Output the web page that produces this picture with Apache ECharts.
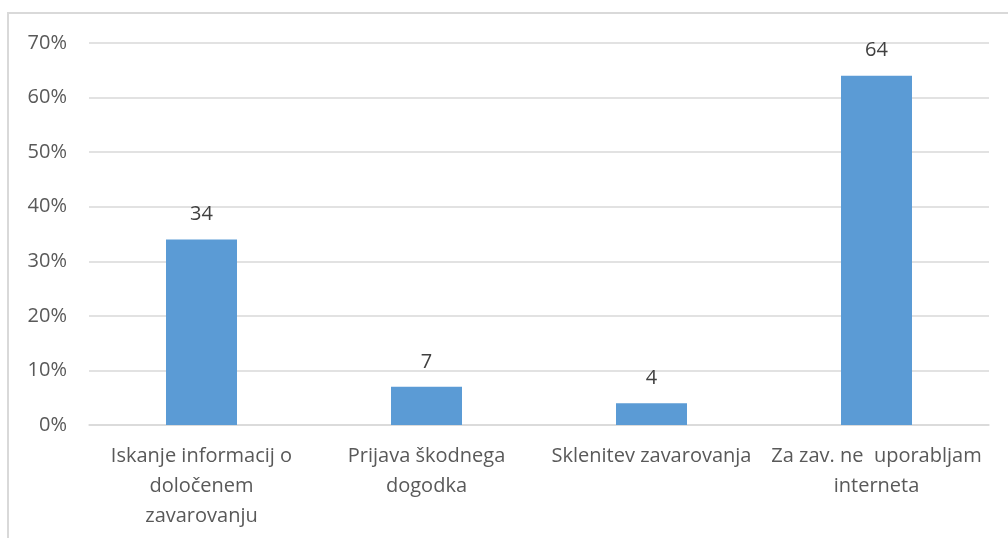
<!DOCTYPE html>
<html>
<head>
<meta charset="utf-8">
<script src="https://cdn.jsdelivr.net/npm/echarts@6/dist/echarts.min.js"></script>
<style>
  html, body { margin: 0; padding: 0; background: #fff; }
  #chart { width: 1008px; height: 538px; }
</style>
</head>
<body>
<div id="chart"></div>
<script>
// Categories (line breaks as they wrap under the axis)
const categories = [
  'Iskanje informacij o\ndoločenem\nzavarovanju',
  'Prijava škodnega\ndogodka',
  'Sklenitev zavarovanja',
  'Za zav. ne  uporabljam\ninterneta'
];
// Share of respondents, in percent
const values = [34, 7, 4, 64];
// Value axis range
const axisMin = 0;
const axisMax = 70;
const axisStep = 10;

const FONT = '"Open Sans", "Noto Sans", sans-serif';

const chart = echarts.init(document.getElementById('chart'), null, { renderer: 'canvas' });
chart.setOption({
  animation: false,
  backgroundColor: '#ffffff',
  graphic: [{
    type: 'rect',
    shape: { x: 8, y: 13, width: 1100, height: 600 },
    style: { fill: 'none', stroke: '#d9d9d9', lineWidth: 2 },
    silent: true
  }],
  grid: { left: 89, right: 19, top: 43, bottom: 113, containLabel: false },
  xAxis: {
    type: 'category',
    data: categories,
    axisLine: { show: true, lineStyle: { color: '#d9d9d9', width: 1.5 } },
    axisTick: { show: false },
    axisLabel: {
      color: '#595959',
      fontFamily: FONT,
      fontSize: 20,
      lineHeight: 30,
      margin: 16,
      interval: 0
    }
  },
  yAxis: {
    type: 'value',
    min: axisMin,
    max: axisMax,
    interval: axisStep,
    axisLine: { show: false },
    axisTick: { show: false },
    splitLine: { lineStyle: { color: '#d9d9d9', width: 1.5 } },
    axisLabel: {
      formatter: '{value}%',
      color: '#595959',
      fontFamily: FONT,
      fontSize: 20,
      margin: 22
    }
  },
  series: [{
    type: 'bar',
    data: values,
    barWidth: 71,
    itemStyle: { color: '#5b9bd5' },
    label: {
      show: true,
      position: 'top',
      distance: 15,
      color: '#404040',
      fontFamily: FONT,
      fontSize: 20
    }
  }]
});
</script>
</body>
</html>
